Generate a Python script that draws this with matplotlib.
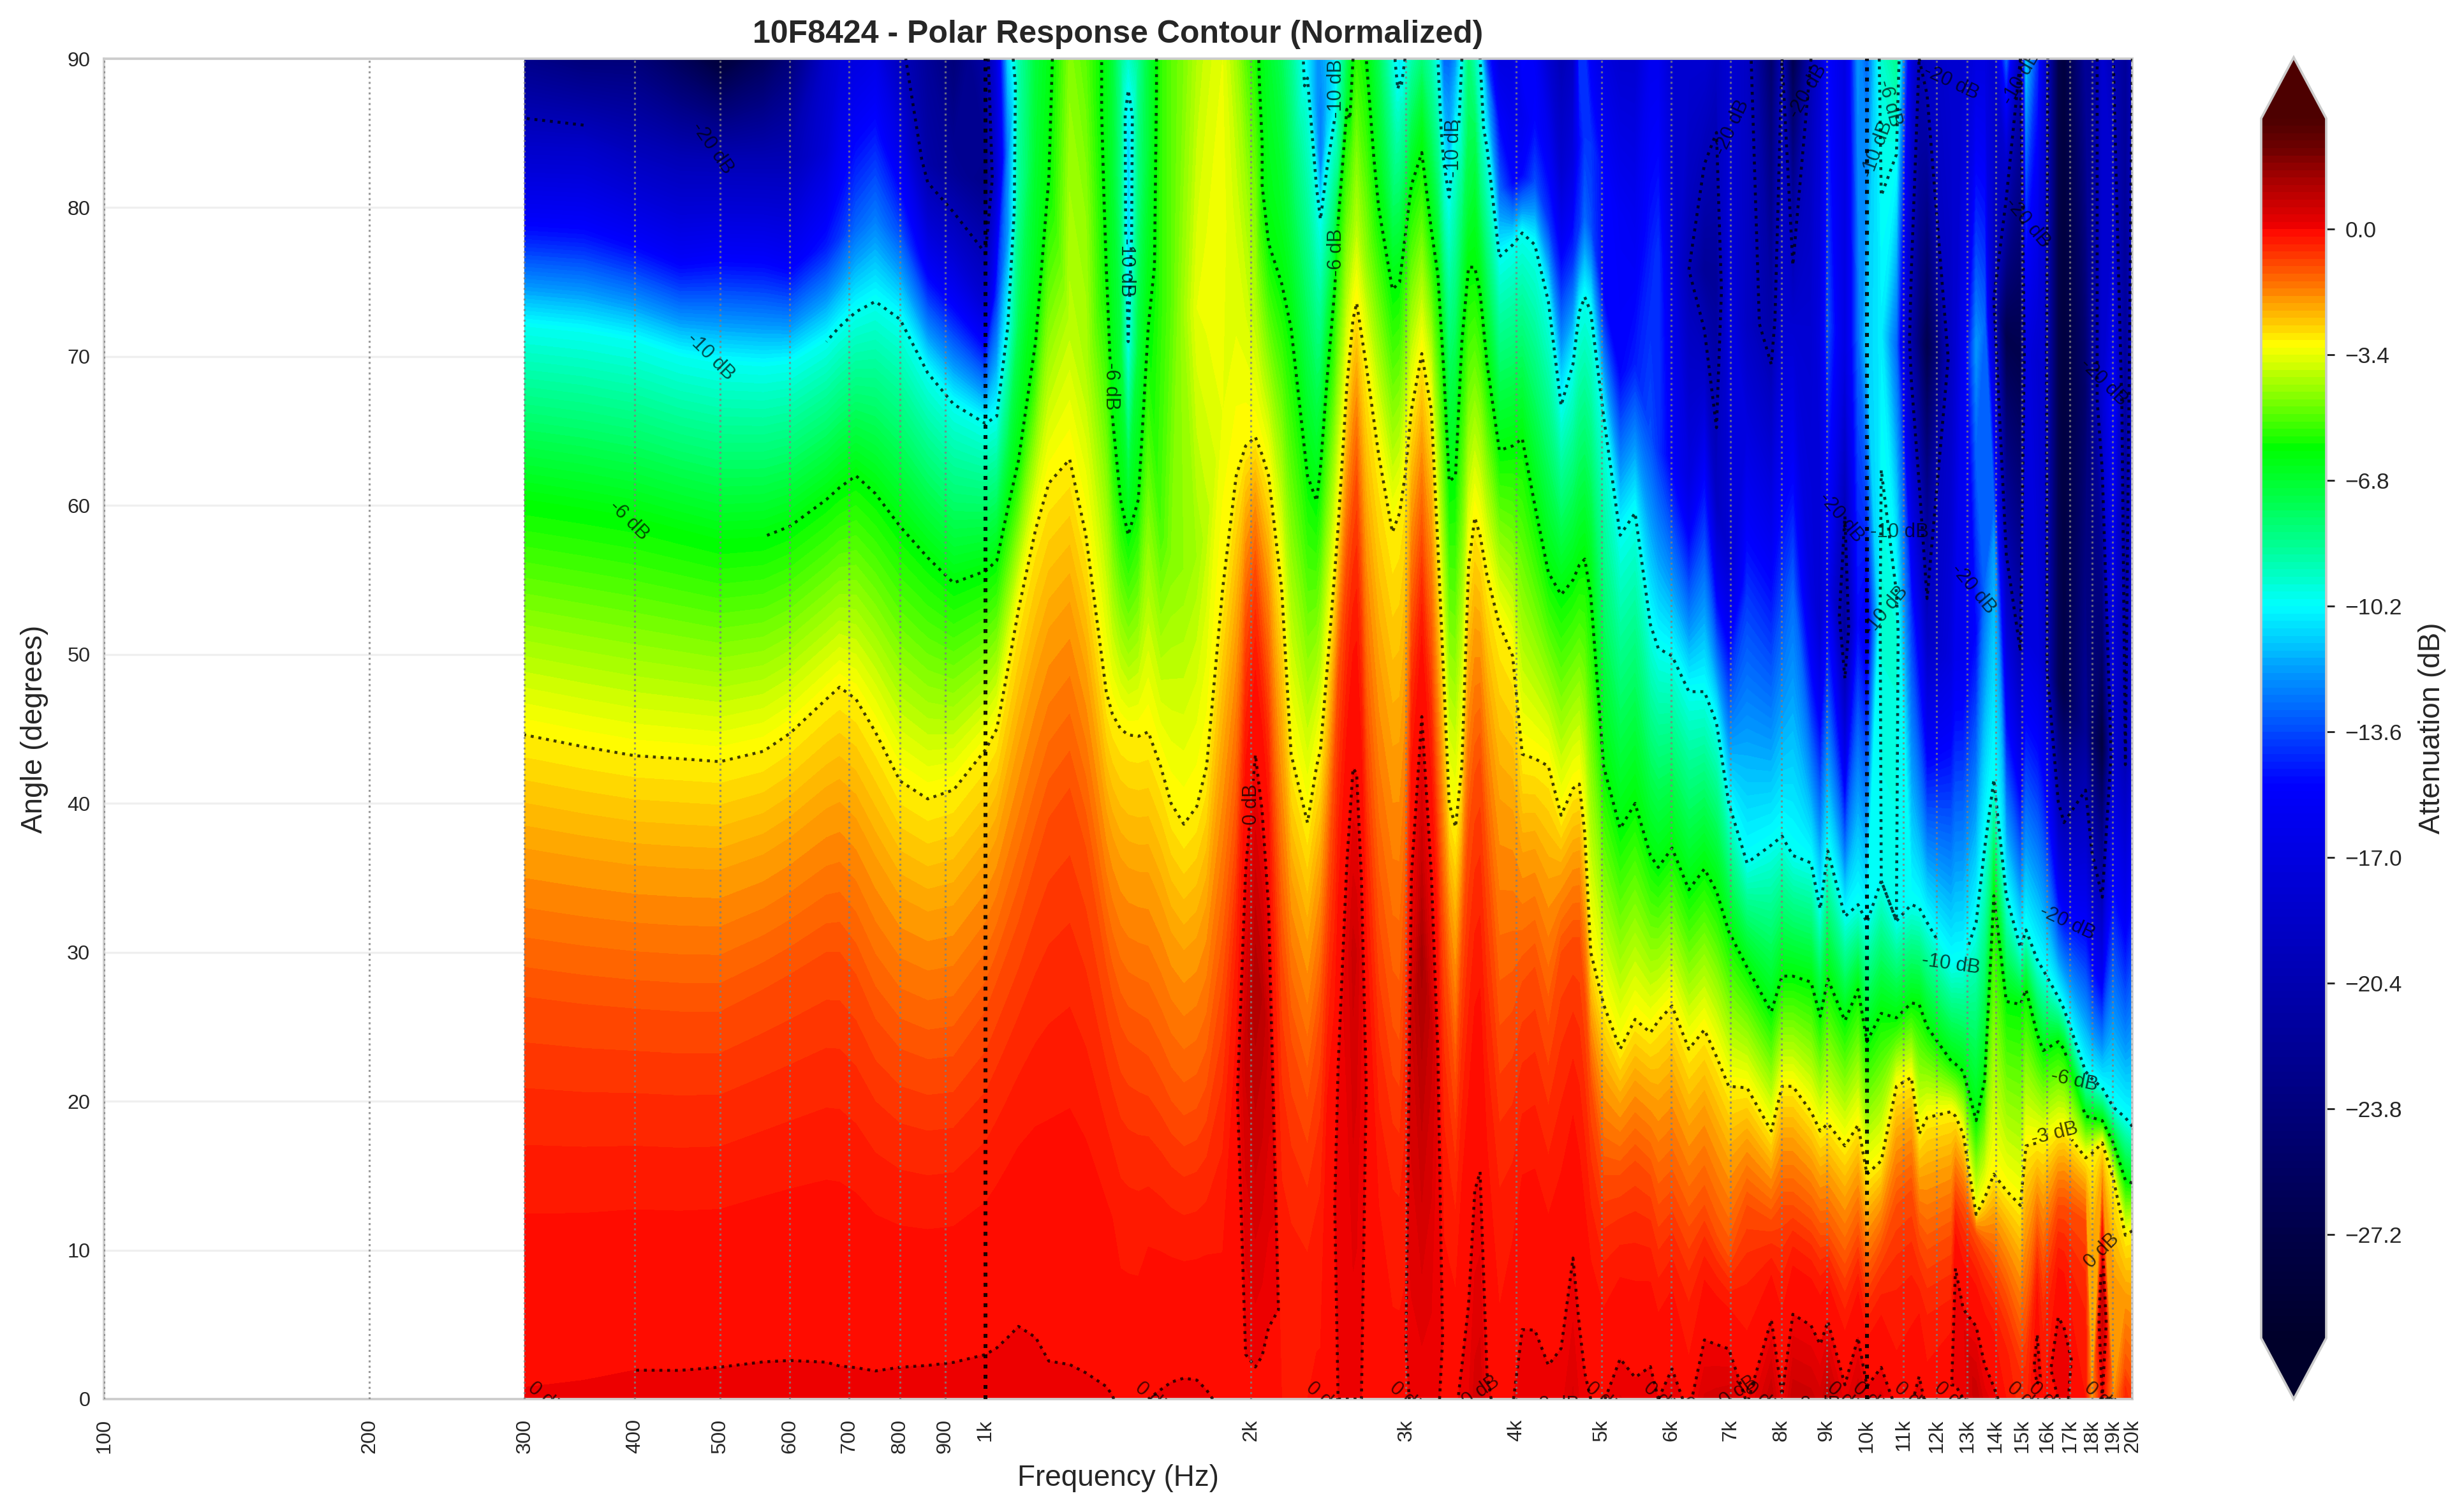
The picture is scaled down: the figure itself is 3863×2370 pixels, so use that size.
import numpy as np
import matplotlib
matplotlib.use("Agg")
import matplotlib.pyplot as plt
from matplotlib.colors import LinearSegmentedColormap

plt.rcParams['font.family'] = ['Liberation Sans', 'DejaVu Sans']

# --- values -------------------------------------------------------------
FREQ = [300,350,400,450,500,560,600,660,683,713,750,800,860,920,1000,1030,1060,1090,1140,1180,
        1246,1300,1371,1393,1423,1452,1491,1530,1580,1624,1679,1737,1782,1858,1925,1973,2024,2060,2095,2168,2222,
        2319,2375,2399,2441,2490,2512,2570,2612,2637,2670,2704,2793,2895,2950,2992,3042,3126,3205,3260,3311,
        3358,3414,3471,3532,3590,3640,3707,3828,3963,4064,4200,4351,4498,4640,4717,4785,4860,5026,5248,5457,
        5680,5798,6010,6280,6540,6750,6970,7310,7790,8010,8240,8640,8850,9030,9440,9770,10000,10380,10800,11230,
        11460,11700,12460,12600,12860,13300,13600,13930,14390,14930,15150,15600,15850,16480,16730,17700,18000,18490,19030,19640,20000]
# value on axis (dB)
ON_AXIS = [.03,.05,.08,.08,.09,.1,.1,.09,.08,.08,.08,.1,.11,.12,.13,.14,.16,.18,.13,.07,
           .06,.05,.03,.01,-.05,-.05,-.05,0,.03,.06,.08,.07,.03,-.05,-.1,-.1,-.1,-.12,-.15,-.2,-.2,
           -.2,-.15,-.15,-.02,-.02,0,0,0,0,0,-.02,-.02,-.1,-.1,-.1,.05,.05,.05,.02,-.05,
           -.05,-.05,.08,.2,.5,.55,.05,-.1,-.02,.2,.19,.1,.128,.44,.19,.07,0,-.02,.22,.1,
           .17,0,.17,-.1,.44,.5,.55,-.05,.8,.02,.78,.7,.5,.9,.12,.6,.12,.27,-.1,-.05,
           .16,-.1,-.02,-.02,0,.8,.3,.1,-.2,-.5,-.5,-.1,-.2,0,.05,-.2,-2,0,-1.8,-.5,-.7]
# off-axis lobe maxima
LOBE_FREQ = [1925,1973,2024,2060,2095,2441,2490,2512,2570,2612,2637,2670,2704,3042,3126,3205,3260,12600,12860,15600,16480,16730,18490]
LOBE_ANG  = [20,24,28,27,24,10,13,21,30,30,30,30,21,25,30,25,20,8,5,3,4,4,8]
LOBE_VAL  = [-.1,.7,1.2,1.0,.6,0,0,.05,.3,.7,.6,.25,0,.6,1.3,.7,.2,.15,.15,.2,.2,.1,1]
# angle at which the response falls to -1, -3, -6 and -10 dB (90 = not reached)
A_M1 = [27,26.5,26.2,26,26,27.5,28.5,30,30,28.5,25.5,23.5,22.8,23,26,28,30,32,36,39,
        41,37,29,27,25,24,23.5,23,21.5,20,19,19.5,21,28,38,52,56,52,48,30,24,
        20,24,26,33,43,48,56,60,62,55,45,32,25,24,31,52,58,50,40,31,
        26,21,30,38,42,43,36,25,26,28,29,25,30,31,31,27,21,15,15,16,
        15,13,14,11.5,13,11,9.5,13,12,13,13,12,11,11,9,11,8,10,13,14,
        11,10,11,14,13,11,10,9,7,4,5,11,9,13,13,12,0,13,0,2,1]
A_M3 = [44.6,43.8,43.2,43,42.8,43.5,44.7,47,47.8,47,44.8,41.5,40.3,40.9,43.6,45,49,53,58.4,61.5,
        63.1,58,47.5,46,45,44.6,44.5,44.8,42.5,40,38.6,39.8,42.5,54.4,62,64,64.6,63.4,62,54.4,43.3,
        38.7,42.5,43.6,49,55.5,58.5,68,72.5,73.6,71.5,69.4,63.4,58.2,59.5,62,66.4,70.2,66.4,57.3,48.3,
        40,38.4,42.5,55.9,59.2,58,55.3,52,49.9,43.3,43,42.5,39.2,41,41.3,38,30,26.5,23.5,25.5,
        24.6,25.4,26.4,23.5,24.8,23,21,20.9,18,21,21,19.3,18,18.5,17,18.4,15.1,16,21,21.6,
        17.8,18.9,19.3,19,17.8,12.4,13.5,15.1,14,13,17,17.2,17.1,18,18.1,16.2,16.5,17.2,14.8,11,11.3]
A_M6 = [60.4,59.8,59.2,58.4,57.7,57.9,58.6,60.4,61.2,62,60.8,58.6,56.5,54.8,55.6,56.3,59.8,63,71,82,
        90,90,76,66,60.4,58,60.4,72,90,90,90,90,90,90,90,90,90,81.5,77.6,74.9,71.9,
        62,60.3,62.5,68.5,74.5,79,86.6,90,90,90,90,80,74.5,75,78,81.5,83.7,78.5,75.5,69,
        61.6,62,71,76,76,74.3,69.5,63.7,64,64.5,60,55.5,54,55,56,56.4,54,42.5,38.3,40,
        36.5,35.7,37,34.2,35.6,34.1,31.4,29,26,28.4,28.4,28,25.7,28.2,25.4,27.5,24,25.9,25.6,26.6,
        26.5,25,22.7,22.5,22,18.7,21.4,33.8,26.7,26.5,27.5,24.5,23.4,24,23.5,19,18.9,18.7,17.2,14.7,14.5]
A_M10 = [72,71.6,71,70,69.5,69.3,69.5,71,72,73,73.7,72.5,68.9,66.8,65.5,66,72,90,90,90,
         90,90,90,90,90,71,90,90,90,90,90,90,90,90,90,90,90,90,90,90,90,
         88.7,81.3,79.2,82.7,86,90,90,90,90,90,90,90,90,88.5,90,90,90,90,90,83,
         80.7,85.5,90,90,90,90,84,76.7,77.5,78.3,77.5,73.7,66.7,69.5,73,74,73,66,58,59.5,
         52,50.4,49.9,47.5,47.5,45.4,40,36,37.2,37.8,36.5,36,32.9,36.8,32.4,33.2,32,34.8,32.1,33.2,
         33,32,29.2,29.3,29.4,32,37,41.6,33.8,30.3,31.5,29.5,28.8,27,26.2,22,21.5,20.9,19.6,18.9,18.3]
# values one third and two thirds of the way from the last level reached to 90 degrees, and at 90 degrees
Z_A = [-14.5,-14.5,-15,-15.5,-15,-15,-15.5,-14.5,-14,-13,-12.5,-13.5,-15.5,-16,-18,-14,-12,-7.5,-6.5,-6.1,
       -3.9,-4,-6.2,-6.5,-7,-11,-7,-6.5,-5.2,-4.6,-4.4,-4.2,-3.9,-3.4,-3.4,-3.6,-4,-6,-6.3,-6.6,-7,
       -10.5,-11.5,-12.5,-11,-10.5,-8.5,-7,-4.2,-4,-4.2,-4.4,-6.5,-7.5,-10.5,-7.5,-7,-6.5,-7,-7.5,-11,
       -11.5,-11,-7.5,-7,-6.7,-7.5,-11,-13,-15,-15,-13.5,-14,-14,-14,-14,-13,-13.5,-15,-15,-14.5,
       -13.5,-14,-15.5,-17,-15,-19,-18,-14,-15,-14,-13,-17,-18,-16,-22,-15,-16,-9.5,-9.5,-14,
       -16,-19,-17,-16,-16,-15,-13,-12,-18,-20,-17,-17,-18,-26,-27,-22,-25,-28,-18,-20,-18]
Z_B = [-18.5,-18.5,-19.5,-20,-20,-20,-20,-17.5,-16,-15,-14.5,-16.5,-21,-22,-23,-18,-12.5,-8.7,-6.8,-6.2,
       -4.2,-4.4,-6.3,-6.8,-8,-11,-8,-7,-5.5,-5,-4.2,-3.4,-3.3,-3.3,-3.7,-4.2,-4.8,-6.2,-6.5,-7,-7.8,
       -10.5,-12,-12.5,-11.5,-10.5,-9,-7.2,-5,-4.7,-5,-5.2,-7,-8.5,-10.5,-8.8,-8,-7.2,-8,-8.8,-12,
       -12,-11.5,-9,-7.5,-7.5,-9,-12,-15,-16,-16,-15,-16,-18,-17,-15,-14,-14,-15,-15.5,-16,
       -14.5,-14,-17,-20,-22,-22,-17,-19,-21,-18,-18,-18,-17,-13.5,-17,-13,-11,-10.5,-13,-21,
       -24,-27,-19,-18,-16,-12,-13,-20,-27,-27,-17,-18,-18,-27,-28,-25,-22,-18,-15,-22,-18]
Z_TOP = [-23,-24,-24,-26,-28.5,-26,-24,-18.5,-17.5,-17,-16.5,-19.5,-22,-24,-21,-17,-11,-9,-7,-6.3,
         -4.5,-5,-6.3,-7,-8.5,-9.5,-8.5,-7,-5.5,-5,-4.6,-4,-3.7,-3.4,-4.2,-5,-5.7,-6.3,-6.7,-7.5,-8.5,
         -10.5,-12,-12,-11.5,-10.5,-9.8,-7.5,-6,-5.5,-5.7,-6,-7.5,-9.7,-10.5,-10,-9,-8,-9,-10,-13,
         -13,-12,-10,-8,-9,-10,-14,-17,-17,-15,-15.5,-18,-20,-19,-14,-14,-15.5,-17,-18,-18,
         -16,-16,-18,-18,-18,-19,-18,-19,-25,-20,-27,-20,-18,-15,-17,-12,-13,-9.5,-8.5,-17,
         -20,-19,-18,-18,-18,-17,-17,-18,-13,-20,-11,-14,-17,-27,-28,-22,-22,-18,-20,-22,-20]

TICK_FREQ = [100,200,300,400,500,600,700,800,900,1000,2000,3000,4000,5000,6000,7000,8000,9000,10000,
             11000,12000,13000,14000,15000,16000,17000,18000,19000,20000]
TICK_TEXT = ['100','200','300','400','500','600','700','800','900','1k','2k','3k','4k','5k','6k','7k','8k','9k','10k',
             '11k','12k','13k','14k','15k','16k','17k','18k','19k','20k']
ANGLE_TICKS = [0,10,20,30,40,50,60,70,80,90]
CBAR_TICKS = [0,-3.4,-6.8,-10.2,-13.6,-17,-20.4,-23.8,-27.2]

# labels that cut their contour: level -> (frequency, angle, rotation)
CUT_LABELS = {
    -10: [(1435,76,-90),(2466,88,90),(3396,84,90),(12380,27.8,-8)],
    -6: [(1389,68,-90),(2488,77,90),(17060,21.3,-12)],
    -3: [(16150,18.3,14)],
    0: [(1968,40,90),(18200,10,45)],
}
# labels set over the field: text, frequency, angle, rotation
FREE_TEXT = ['-20 dB','-10 dB','-6 dB','-20 dB','-20 dB','-20 dB','-20 dB','-20 dB','-20 dB','-20 dB','-20 dB',
             '-10 dB','-10 dB','-10 dB','-10 dB','-6 dB',
             '0 dB','0 dB','0 dB','0 dB','0 dB','0 dB','0 dB','0 dB','0 dB','0 dB','0 dB','0 dB','0 dB','0 dB','0 dB','0 dB','0 dB','0 dB','0 dB','0 dB']
FREE_FREQ = [490,488,394,7023,8564,12460,15220,9350,13200,18570,16880,
             10280,10890,10500,14970,10600,
             317,1550,2420,3010,3650,4470,5020,5850,7150,7600,8860,9450,10100,11250,12500,15100,16000,18500,19200,6450]
FREE_ANG = [84,70,59,85.4,87.8,88.4,79,59.2,54.4,68.3,32,
            83.9,58.2,52.9,88.7,87,
            0,0,0,0,0.5,-0.4,0,0,0.5,0,-0.4,0,0,0,0,0,0,0,-1,-1]
FREE_ROT = [-55,-45,-45,65,60,-25,-50,-50,-50,-45,-25,
            70,0,50,60,-75,
            -40,-40,-40,-40,35,0,-40,-40,35,-40,0,-40,-40,-40,-40,-40,-40,-40,-40,-40]

# --- build the grid ---------------------------------------------------------
f = np.array(FREQ, float)
n = len(f)
pk_a = np.zeros(n)
pk_v = np.array(ON_AXIS, float)
for lf, la, lv in zip(LOBE_FREQ, LOBE_ANG, LOBE_VAL):
    i = FREQ.index(lf)
    pk_a[i], pk_v[i] = la, lv
a1, a3, a6, a10 = [np.array(v, float) for v in (A_M1, A_M3, A_M6, A_M10)]
zA, zB, zT = [np.array(v, float) for v in (Z_A, Z_B, Z_TOP)]
z0 = np.array(ON_AXIS, float)

YS, ZS = [], []
for j in range(n):
    ys = [0.0, pk_a[j]]
    zs = [z0[j], pk_v[j]]
    if a1[j] <= 0:          # already below -1 dB on axis
        ys += [0.0] * 4
        zs += [z0[j]] * 4
        ys.append(0.566 * a3[j]); zs.append(-2.0)
    else:
        if pk_v[j] > 0:
            start, zstart = pk_a[j] + (a1[j] - pk_a[j]) * pk_v[j] / (1 + pk_v[j]), 0.0
        else:
            start, zstart = pk_a[j], pk_v[j]
        ys.append(start); zs.append(zstart)
        for t in (0.45, 0.71):
            ys.append(start + t * (a1[j] - start))
            zs.append(zstart - (1 + zstart) * t * t)
        ys.append(a1[j]); zs.append(-1.0)
        ys.append(a1[j] + 0.566 * (a3[j] - a1[j])); zs.append(-2.0)
    ys.append(a3[j]); zs.append(-3.0)
    if a6[j] >= 90:
        last = a3[j]
        reached = []
    elif a10[j] >= 90:
        last = a6[j]
        reached = [(a6[j], -6.0)]
    else:
        last = a10[j]
        reached = [(a6[j], -6.0), (a10[j], -10.0)]
    tail = reached + [(last + (90 - last) / 3, zA[j]), (last + 2 * (90 - last) / 3, zB[j])]
    while len(tail) < 5:
        tail.append((90.0, zT[j]))
    for a, v in tail:
        ys.append(a); zs.append(v)
    ys.append(90.0); zs.append(zT[j])
    YS.append(ys); ZS.append(zs)
Y = np.array(YS).T
Z = np.array(ZS).T
Y = np.maximum.accumulate(Y, axis=0)
X = np.tile(f, (Y.shape[0], 1))

# --- colours ---------------------------------------------------------------
anchors = [(-30,'#00002a'),(-27.2,'#000048'),(-23.8,'#00007c'),(-20.4,'#0000b0'),(-17,'#0000e0'),(-15,'#0000ff'),
           (-13.6,'#0048ff'),(-12,'#0098ff'),(-10.2,'#00ffff'),(-8.5,'#00ff90'),(-6.8,'#00ff30'),(-5.9,'#00ff00'),
           (-4.4,'#90ff00'),(-3.1,'#ffff00'),(-2.6,'#ffd000'),(-2,'#ffa000'),(-1.5,'#ff7800'),(-1,'#ff5000'),
           (-.5,'#ff2800'),(-.05,'#ff0800'),(.1,'#f00000'),(1.3,'#aa0000'),(2.2,'#700000'),(3,'#4d0000')]
cmap = LinearSegmentedColormap.from_list('polar', [((v + 30) / 33, c) for v, c in anchors], N=512)
cmap.set_under('#00002a')
cmap.set_over('#4d0000')
fill_levels = np.linspace(-30, 3, 166)

# --- figure ----------------------------------------------------------------
W, H = 3863, 2370
fig = plt.figure(figsize=(W / 300, H / 300), dpi=300)
ax = fig.add_axes([163 / W, 1 - 2193 / H, (3343 - 163) / W, (2193 - 92) / H])
ax.set_xscale('log')
ax.set_axisbelow(True)
ax.grid(axis='y', color='#efefef', lw=0.8)
cf = ax.contourf(X, Y, Z, levels=fill_levels, cmap=cmap, extend='both', zorder=1)

line_style = dict(colors='k', linestyles=':', linewidths=1.1, alpha=0.75, zorder=3)
segments = [(-20, 0, 380), (-20, 660, 20000), (-10, 660, 20000), (-6, 560, 20000), (-3, 0, 20000), (0, 400, 20000)]
line_sets = {}
for lev, lo, hi in segments:
    keep = (f >= lo) & (f <= hi)
    line_sets.setdefault(lev, []).append(ax.contour(X[:, keep], Y[:, keep], Z[:, keep], levels=[lev], **line_style))
for lev, spots in CUT_LABELS.items():
    cs = line_sets[lev][-1]
    labs = ax.clabel(cs, manual=[(s[0], s[1]) for s in spots], fmt=lambda v: f'{v:.0f} dB', fontsize=7.5, inline=True)
    for t, s in zip(labs, spots):
        t.set_rotation(s[2])
        t.set_alpha(0.72)
        t.set_clip_box(ax.bbox)
        t.set_clip_on(True)
for txt, ff, aa, rr in zip(FREE_TEXT, FREE_FREQ, FREE_ANG, FREE_ROT):
    ax.text(ff, aa, txt, rotation=rr, rotation_mode='anchor', ha='center', va='center', fontsize=7.5,
            color='k', alpha=0.68, zorder=5, clip_on=True)

for tf in TICK_FREQ:
    if tf in (1000, 10000):
        ax.axvline(tf, color='k', ls=':', lw=1.45, alpha=0.9, zorder=4)
    else:
        ax.axvline(tf, color='#808080', ls=':', lw=0.75, alpha=0.8, zorder=4)
ax.set_xlim(100, 20000)
ax.set_ylim(0, 90)
ax.set_xticks(TICK_FREQ)
ax.set_xticklabels(TICK_TEXT, rotation=90, fontsize=7.8, color='#262626')
ax.minorticks_off()
ax.set_yticks(ANGLE_TICKS)
ax.tick_params(axis='x', length=0, pad=7.5, labelsize=7.8, labelcolor='#262626')
ax.tick_params(axis='y', length=0, pad=5.2, labelsize=7.8, labelcolor='#262626')
ax.set_xlabel('Frequency (Hz)', fontsize=11, color='#262626', labelpad=4)
ax.set_ylabel('Angle (degrees)', fontsize=11, color='#262626', labelpad=7)
ax.set_title('10F8424 - Polar Response Contour (Normalized)', fontsize=12, fontweight='bold', color='#262626', pad=6)
for s in ax.spines.values():
    s.set_color('#cccccc')
    s.set_linewidth(0.9)

cax = fig.add_axes([3545 / W, 1 - 2193 / H, (3647 - 3545) / W, (2193 - 90) / H])
cb = fig.colorbar(cf, cax=cax, extend='both', ticks=CBAR_TICKS)
cb.ax.set_yticklabels([f'{v:.1f}'.replace('-', '\u2212') for v in CBAR_TICKS])
cb.outline.set_edgecolor('#cccccc')
cb.outline.set_linewidth(0.9)
cb.ax.tick_params(length=3.2, width=0.7, color='#262626', labelsize=8.5, labelcolor='#262626', pad=3.8)
cb.set_label('Attenuation (dB)', fontsize=11, color='#262626', labelpad=6)

fig.savefig('out.png', dpi=300)
